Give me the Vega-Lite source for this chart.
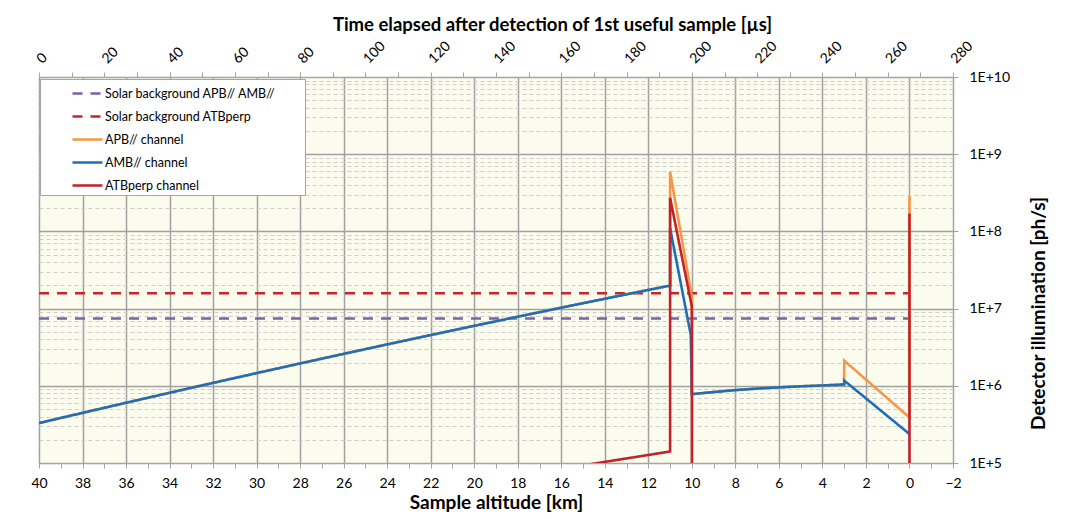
{
  "$schema": "https://vega.github.io/schema/vega-lite/v6.json",
  "width": 914,
  "height": 386,
  "autosize": {"type": "none"},
  "padding": {"left": 39, "top": 77, "right": 117, "bottom": 56},
  "background": "#FFFFFF",
  "config": {
    "font": "Lato",
    "view": {"fill": "#FCFCEE", "stroke": "#A6A6A6", "strokeWidth": 1},
    "axis": {
      "labelFont": "Lato", "titleFont": "Lato", "labelColor": "#000000", "titleColor": "#000000",
      "domainColor": "#A6A6A6", "tickColor": "#A6A6A6", "labelFontSize": 14, "titleFontSize": 18.5, "titleFontWeight": "bold"
    },
    "legend": {
      "orient": "none", "legendX": 1, "legendY": 2, "title": null,
      "fillColor": "#FFFFFF", "strokeColor": "#A6A6A6", "padding": 3,
      "symbolType": "M-1.5,0H1.5", "symbolSize": 400, "symbolStrokeWidth": 2.5,
      "symbolOffset": 33, "labelOffset": 6, "rowPadding": 5,
      "labelFont": "Lato", "labelFontSize": 12.5, "labelColor": "#000000", "labelLimit": 500
    }
  },
  "datasets": {
    "main": [
      {"s": "Solar background APB// AMB//", "i": 0, "km": 40, "v": 7.43e6},
      {"s": "Solar background APB// AMB//", "i": 1, "km": 0, "v": 7.43e6},
      {"s": "Solar background ATBperp", "i": 0, "km": 40, "v": 1.58e7},
      {"s": "Solar background ATBperp", "i": 1, "km": 0, "v": 1.58e7},
      {"s": "APB// channel", "i": 0, "km": 40, "v": 3.29e5},
      {"s": "APB// channel", "i": 1, "km": 38, "v": 4.46e5},
      {"s": "APB// channel", "i": 2, "km": 36, "v": 6.03e5},
      {"s": "APB// channel", "i": 3, "km": 34, "v": 8.12e5},
      {"s": "APB// channel", "i": 4, "km": 32, "v": 1.091e6},
      {"s": "APB// channel", "i": 5, "km": 30, "v": 1.46e6},
      {"s": "APB// channel", "i": 6, "km": 28, "v": 1.949e6},
      {"s": "APB// channel", "i": 7, "km": 26, "v": 2.593e6},
      {"s": "APB// channel", "i": 8, "km": 24, "v": 3.438e6},
      {"s": "APB// channel", "i": 9, "km": 22, "v": 4.543e6},
      {"s": "APB// channel", "i": 10, "km": 20, "v": 5.984e6},
      {"s": "APB// channel", "i": 11, "km": 18, "v": 7.858e6},
      {"s": "APB// channel", "i": 12, "km": 16, "v": 1.0285e7},
      {"s": "APB// channel", "i": 13, "km": 14, "v": 1.342e7},
      {"s": "APB// channel", "i": 14, "km": 12, "v": 1.745e7},
      {"s": "APB// channel", "i": 15, "km": 11, "v": 1.987e7},
      {"s": "APB// channel", "i": 16, "km": 11, "v": 5.92e8},
      {"s": "APB// channel", "i": 17, "km": 10, "v": 1.43e7},
      {"s": "APB// channel", "i": 18, "km": 10, "v": 7.8e5},
      {"s": "APB// channel", "i": 19, "km": 9, "v": 8.3e5},
      {"s": "APB// channel", "i": 20, "km": 8, "v": 8.8e5},
      {"s": "APB// channel", "i": 21, "km": 7, "v": 9.2e5},
      {"s": "APB// channel", "i": 22, "km": 6, "v": 9.55e5},
      {"s": "APB// channel", "i": 23, "km": 5, "v": 9.85e5},
      {"s": "APB// channel", "i": 24, "km": 4, "v": 1.01e6},
      {"s": "APB// channel", "i": 25, "km": 3, "v": 1.04e6},
      {"s": "APB// channel", "i": 26, "km": 3, "v": 2.12e6},
      {"s": "APB// channel", "i": 27, "km": 0, "v": 3.89e5},
      {"s": "APB// channel", "i": 28, "km": 0, "v": 2.87e8},
      {"s": "AMB// channel", "i": 0, "km": 40, "v": 3.29e5},
      {"s": "AMB// channel", "i": 1, "km": 38, "v": 4.46e5},
      {"s": "AMB// channel", "i": 2, "km": 36, "v": 6.03e5},
      {"s": "AMB// channel", "i": 3, "km": 34, "v": 8.12e5},
      {"s": "AMB// channel", "i": 4, "km": 32, "v": 1.091e6},
      {"s": "AMB// channel", "i": 5, "km": 30, "v": 1.46e6},
      {"s": "AMB// channel", "i": 6, "km": 28, "v": 1.949e6},
      {"s": "AMB// channel", "i": 7, "km": 26, "v": 2.593e6},
      {"s": "AMB// channel", "i": 8, "km": 24, "v": 3.438e6},
      {"s": "AMB// channel", "i": 9, "km": 22, "v": 4.543e6},
      {"s": "AMB// channel", "i": 10, "km": 20, "v": 5.984e6},
      {"s": "AMB// channel", "i": 11, "km": 18, "v": 7.858e6},
      {"s": "AMB// channel", "i": 12, "km": 16, "v": 1.0285e7},
      {"s": "AMB// channel", "i": 13, "km": 14, "v": 1.342e7},
      {"s": "AMB// channel", "i": 14, "km": 12, "v": 1.745e7},
      {"s": "AMB// channel", "i": 15, "km": 11, "v": 1.987e7},
      {"s": "AMB// channel", "i": 16, "km": 11, "v": 1.1e8},
      {"s": "AMB// channel", "i": 17, "km": 10.05, "v": 4.57e6},
      {"s": "AMB// channel", "i": 18, "km": 10, "v": 7.8e5},
      {"s": "AMB// channel", "i": 19, "km": 9, "v": 8.3e5},
      {"s": "AMB// channel", "i": 20, "km": 8, "v": 8.8e5},
      {"s": "AMB// channel", "i": 21, "km": 7, "v": 9.2e5},
      {"s": "AMB// channel", "i": 22, "km": 6, "v": 9.55e5},
      {"s": "AMB// channel", "i": 23, "km": 5, "v": 9.85e5},
      {"s": "AMB// channel", "i": 24, "km": 4, "v": 1.01e6},
      {"s": "AMB// channel", "i": 25, "km": 3, "v": 1.04e6},
      {"s": "AMB// channel", "i": 26, "km": 3, "v": 1.17e6},
      {"s": "AMB// channel", "i": 27, "km": 0, "v": 2.37e5},
      {"s": "ATBperp channel", "i": 0, "km": 40, "v": 6.3e3},
      {"s": "ATBperp channel", "i": 1, "km": 30, "v": 1.97e4},
      {"s": "ATBperp channel", "i": 2, "km": 20, "v": 5.56e4},
      {"s": "ATBperp channel", "i": 3, "km": 15, "v": 9.3e4},
      {"s": "ATBperp channel", "i": 4, "km": 14, "v": 1.034e5},
      {"s": "ATBperp channel", "i": 5, "km": 12, "v": 1.27e5},
      {"s": "ATBperp channel", "i": 6, "km": 11, "v": 1.41e5},
      {"s": "ATBperp channel", "i": 7, "km": 11, "v": 2.73e8},
      {"s": "ATBperp channel", "i": 8, "km": 10, "v": 1.06e7},
      {"s": "ATBperp channel", "i": 9, "km": 10, "v": 1e3},
      {"s": "ATBperp channel", "i": 10, "km": 0, "v": 1e3},
      {"s": "ATBperp channel", "i": 11, "km": 0, "v": 1.71e8}
    ]
  },
  "layer": [
    {
      "data": {"name": "main"},
      "encoding": {
        "x": {
          "field": "km", "type": "quantitative",
          "scale": {"domain": [-2, 40], "reverse": true, "nice": false, "zero": false},
          "axis": {
            "orient": "bottom", "title": "Sample altitude [km]", "titleFontSize": 19,
            "values": [-2,-1,0,1,2,3,4,5,6,7,8,9,10,11,12,13,14,15,16,17,18,19,20,21,22,23,24,25,26,27,28,29,30,31,32,33,34,35,36,37,38,39,40],
            "labelExpr": "datum.value % 2 == 0 ? datum.label : ''",
            "grid": true,
            "gridColor": {"condition": {"test": "datum.value % 2 != 0", "value": "transparent"}, "value": "#A0A0A0"},
            "gridWidth": 1.5,
            "tickSize": 5, "labelPadding": 8, "titlePadding": 3,
            "labelFlush": false, "labelOverlap": false
          }
        },
        "y": {
          "field": "v", "type": "quantitative",
          "scale": {"type": "log", "domain": [1e5, 1e10], "nice": false},
          "axis": {
            "orient": "right", "title": "Detector illumination [ph/s]", "titleFontSize": 19,
            "values": [1e5,2e5,3e5,4e5,5e5,6e5,7e5,8e5,9e5,1e6,2e6,3e6,4e6,5e6,6e6,7e6,8e6,9e6,1e7,2e7,3e7,4e7,5e7,6e7,7e7,8e7,9e7,1e8,2e8,3e8,4e8,5e8,6e8,7e8,8e8,9e8,1e9,2e9,3e9,4e9,5e9,6e9,7e9,8e9,9e9,1e10],
            "labelExpr": "abs(log(datum.value)/LN10 - round(log(datum.value)/LN10)) < 0.001 ? '1E+' + round(log(datum.value)/LN10) : ''",
            "grid": true,
            "gridColor": {"condition": {"test": "abs(log(datum.value)/LN10 - round(log(datum.value)/LN10)) < 0.001", "value": "#A0A0A0"}, "value": "#CDCDCD"},
            "gridDash": {"condition": {"test": "abs(log(datum.value)/LN10 - round(log(datum.value)/LN10)) < 0.001", "value": []}, "value": [4, 3]},
            "gridWidth": {"condition": {"test": "abs(log(datum.value)/LN10 - round(log(datum.value)/LN10)) < 0.001", "value": 1.5}, "value": 1},
            "tickColor": {"condition": {"test": "abs(log(datum.value)/LN10 - round(log(datum.value)/LN10)) < 0.001", "value": "#A0A0A0"}, "value": "transparent"},
            "tickSize": 5, "labelPadding": 11, "labelAlign": "left", "labelBaseline": "middle",
            "labelFlush": false, "labelOverlap": false,
            "titleAngle": 270, "titleBaseline": "top", "titlePadding": 20, "titleY": 236
          }
        },
        "color": {
          "field": "s", "type": "nominal",
          "scale": {
            "domain": ["Solar background APB// AMB//", "Solar background ATBperp", "APB// channel", "AMB// channel", "ATBperp channel"],
            "range": ["#7F60A8", "#C8242C", "#F79646", "#1F6FB8", "#C0232B"]
          },
          "legend": {"title": null, "labelExpr": "datum.label + '\u00a0\u00a0\u00a0\u00a0\u00a0\u00a0\u00a0\u00a0\u200b'"}
        },
        "strokeDash": {
          "field": "s", "type": "nominal",
          "scale": {
            "domain": ["Solar background APB// AMB//", "Solar background ATBperp", "APB// channel", "AMB// channel", "ATBperp channel"],
            "range": [[10, 8], [10, 8], [1, 0], [1, 0], [1, 0]]
          },
          "legend": {"title": null, "labelExpr": "datum.label + '\u00a0\u00a0\u00a0\u00a0\u00a0\u00a0\u00a0\u00a0\u200b'"}
        },
        "order": {"field": "i", "type": "quantitative"}
      },
      "layer": [
        {"transform": [{"filter": "datum.s == 'Solar background APB// AMB//'"}], "mark": {"type": "line", "strokeWidth": 2.6, "clip": true}},
        {"transform": [{"filter": "datum.s == 'Solar background ATBperp'"}], "mark": {"type": "line", "strokeWidth": 2.6, "clip": true}},
        {"transform": [{"filter": "datum.s == 'APB// channel'"}], "mark": {"type": "line", "strokeWidth": 2.6, "clip": true}},
        {"transform": [{"filter": "datum.s == 'AMB// channel'"}], "mark": {"type": "line", "strokeWidth": 2.6, "clip": true}},
        {"transform": [{"filter": "datum.s == 'ATBperp channel'"}], "mark": {"type": "line", "strokeWidth": 2.6, "clip": true}}
      ]
    },
    {
      "data": {"values": [{"t": 0}, {"t": 280}]},
      "mark": {"type": "rule", "opacity": 0},
      "encoding": {
        "x": {
          "field": "t", "type": "quantitative",
          "scale": {"domain": [0, 280], "nice": false, "zero": false},
          "axis": {
            "orient": "top", "title": "Time elapsed after detection of 1st useful sample [µs]",
            "values": [0,10,20,30,40,50,60,70,80,90,100,110,120,130,140,150,160,170,180,190,200,210,220,230,240,250,260,270,280],
            "labelExpr": "datum.value % 20 == 0 ? datum.label : ''",
            "grid": false, "tickSize": 5, "labelPadding": 11,
            "labelAngle": -45, "labelAlign": "left", "labelBaseline": "middle",
            "labelFlush": false, "labelOverlap": false,
            "titlePadding": 4, "titleX": 513
          }
        }
      }
    }
  ],
  "resolve": {"scale": {"x": "independent"}}
}
